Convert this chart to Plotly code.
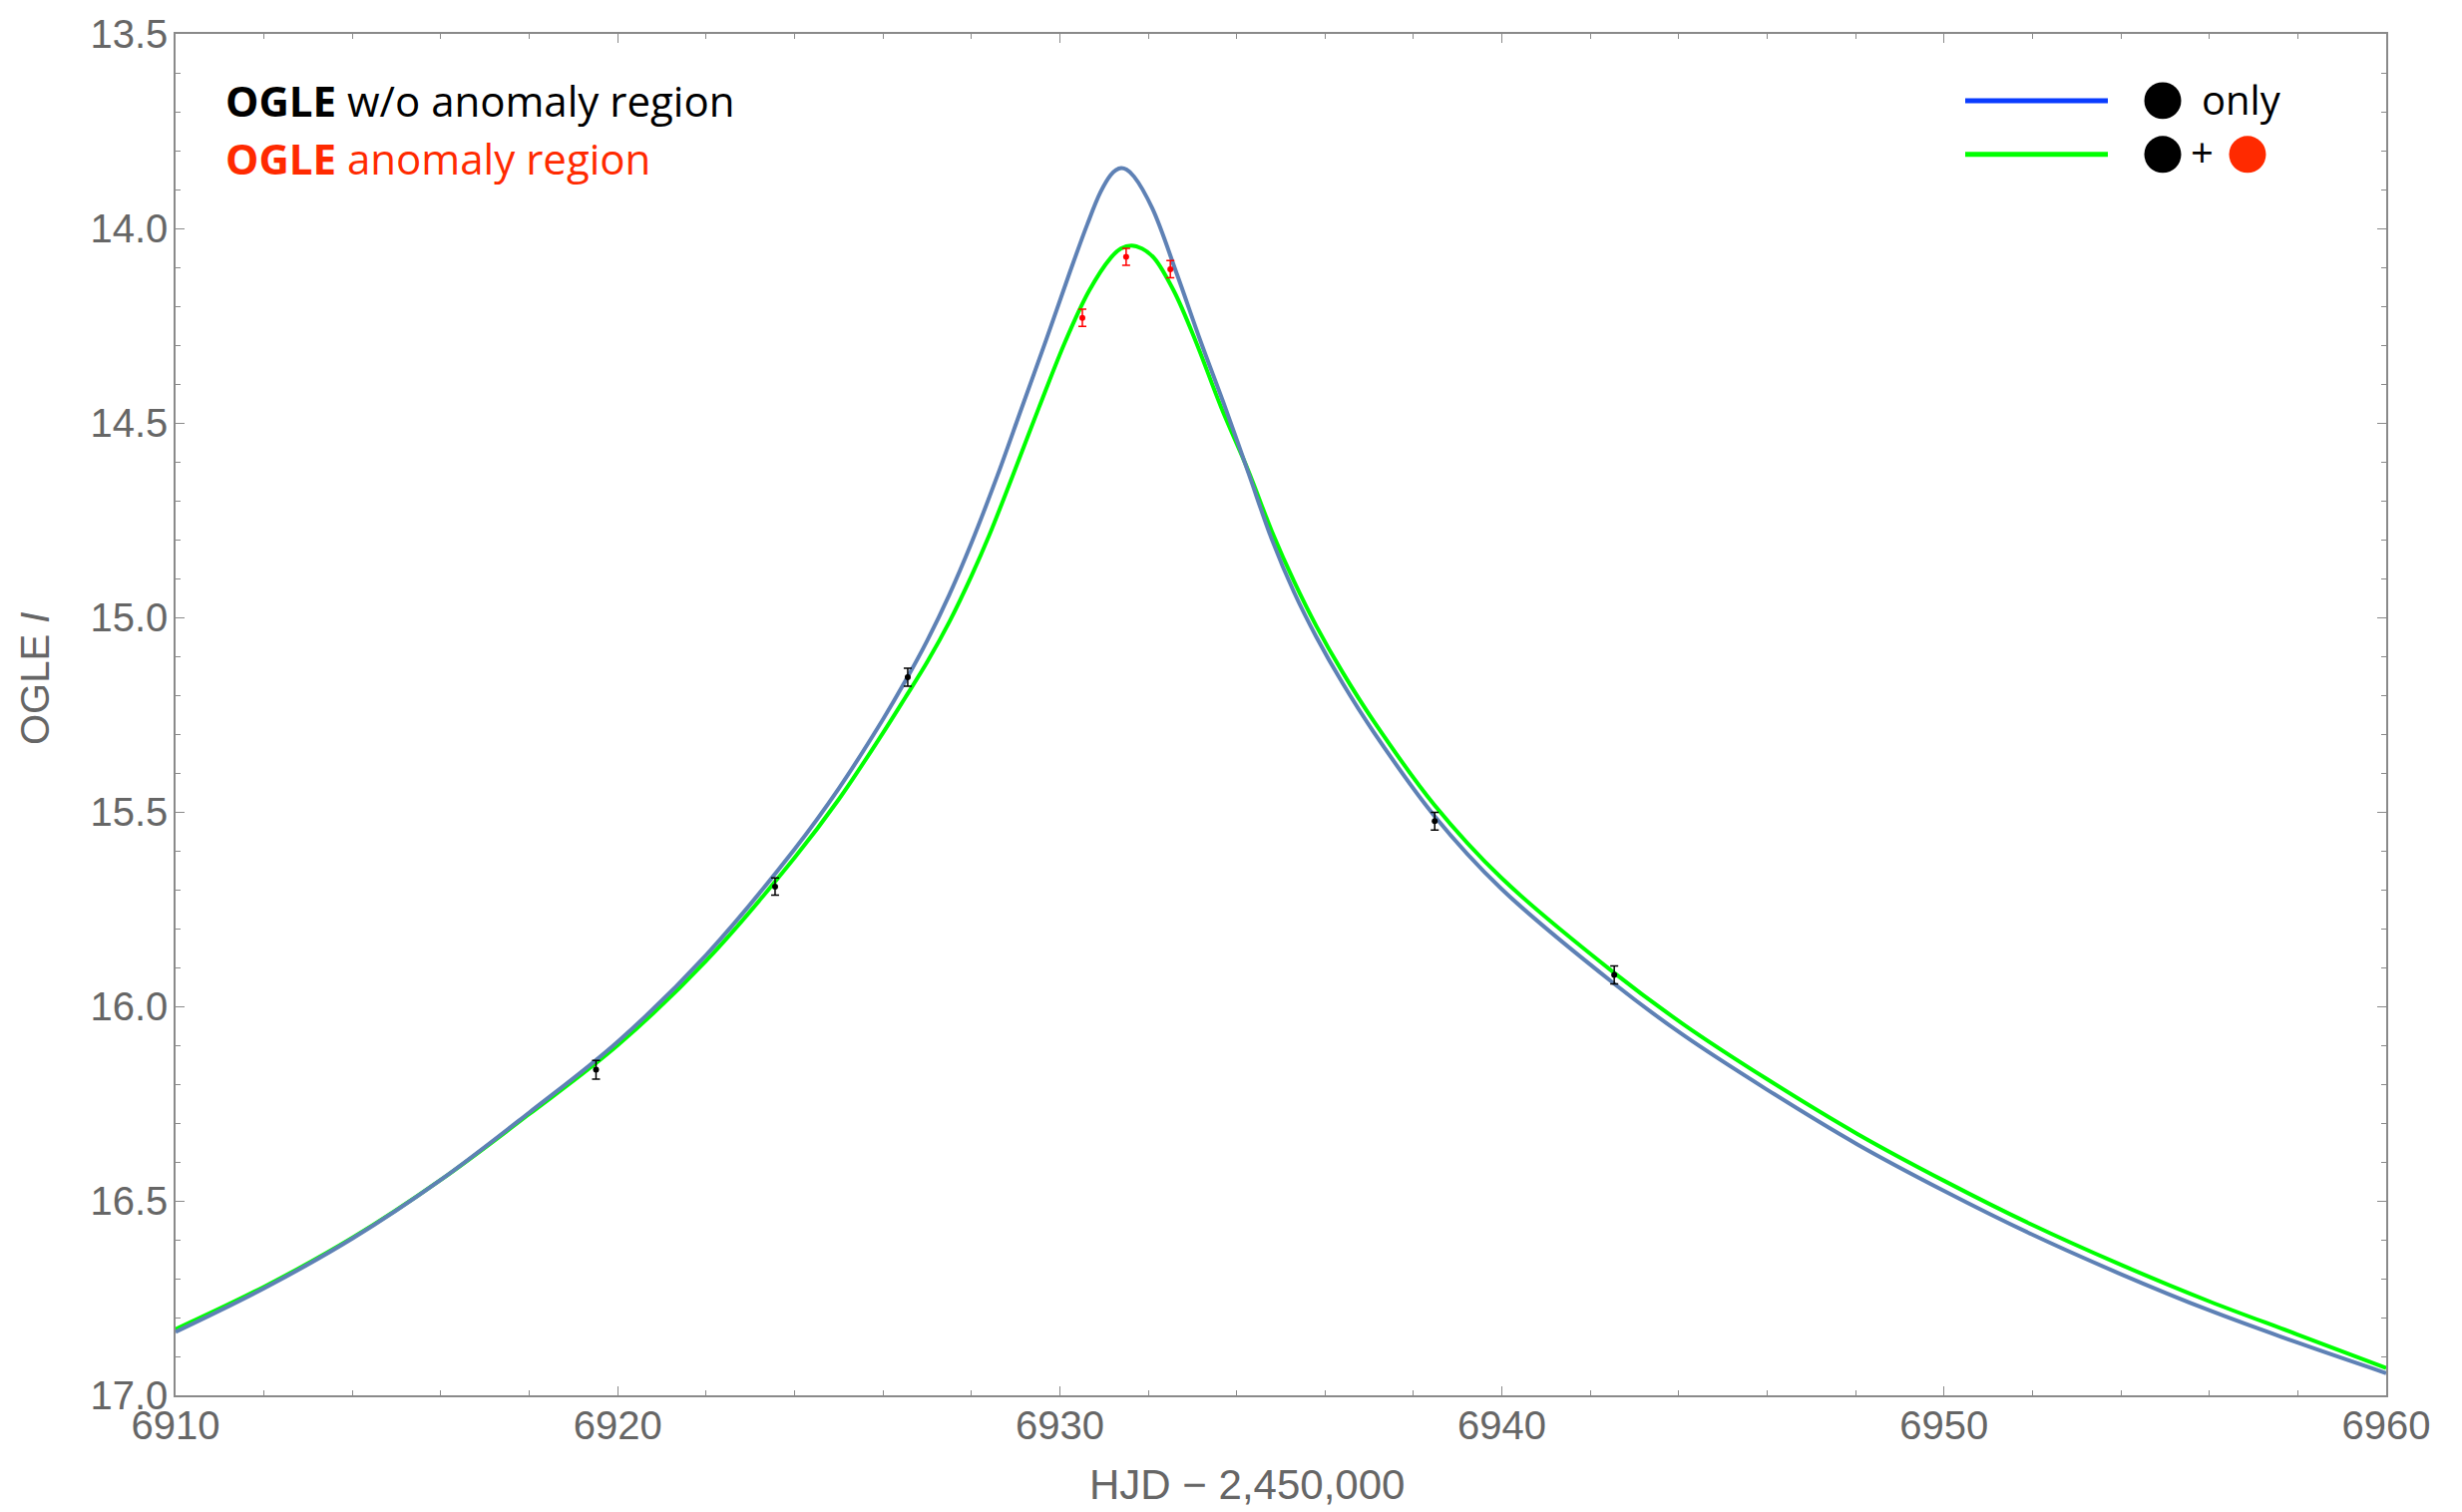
import plotly.graph_objects as go

# ---------------- data ----------------
ogle_t = [6919.51, 6923.56, 6926.56, 6938.48, 6942.54]
ogle_mag = [16.163, 15.692, 15.154, 15.524, 15.919]
ogle_err = [0.024, 0.022, 0.023, 0.023, 0.023]

anom_t = [6930.51, 6931.50, 6932.50]
anom_mag = [14.230, 14.073, 14.105]
anom_err = [0.022, 0.022, 0.022]

blue_t = [6910.00, 6912.00, 6914.00, 6916.00, 6918.00, 6920.00, 6922.00, 6924.00,
          6925.00, 6926.00, 6926.50, 6927.00, 6927.50, 6928.00, 6928.59, 6929.13,
          6929.68, 6930.21, 6930.62, 6930.92, 6931.15, 6931.27, 6931.39, 6931.51,
          6931.68, 6932.09, 6932.65, 6933.18, 6933.74, 6934.27, 6934.80, 6935.30,
          6935.80, 6936.40, 6937.10, 6938.47, 6939.99, 6942.53, 6944.09, 6945.98,
          6948.04, 6950.01, 6951.98, 6953.95, 6956.01, 6957.98, 6960.00]
blue_mag = [16.837, 16.725, 16.597, 16.446, 16.273, 16.091, 15.868, 15.596,
            15.440, 15.262, 15.165, 15.060, 14.942, 14.809, 14.635, 14.464,
            14.290, 14.118, 13.990, 13.907, 13.863, 13.850, 13.845, 13.849,
            13.867, 13.948, 14.118, 14.289, 14.460, 14.630, 14.801, 14.936,
            15.050, 15.170, 15.295, 15.510, 15.698, 15.941, 16.073, 16.213,
            16.355, 16.475, 16.586, 16.686, 16.782, 16.864, 16.943]

green_t = [6910.00, 6912.00, 6914.00, 6916.00, 6918.00, 6920.00, 6922.00, 6924.00,
           6925.00, 6926.00, 6926.50, 6927.00, 6927.50, 6928.00, 6928.40, 6928.93,
           6929.53, 6930.13, 6930.66, 6931.15, 6931.38, 6931.62, 6931.86, 6932.13,
           6932.58, 6933.07, 6933.65, 6934.27, 6934.80, 6935.30, 6935.80, 6936.40,
           6937.10, 6938.47, 6939.99, 6942.53, 6944.09, 6945.98, 6948.04, 6950.01,
           6951.98, 6953.95, 6956.01, 6957.98, 6960.00]
green_mag = [16.830, 16.721, 16.595, 16.446, 16.277, 16.100, 15.883, 15.618,
             15.468, 15.297, 15.207, 15.115, 15.012, 14.894, 14.790, 14.637,
             14.460, 14.289, 14.161, 14.076, 14.052, 14.044, 14.052, 14.076,
             14.161, 14.289, 14.460, 14.625, 14.780, 14.908, 15.022, 15.142,
             15.267, 15.482, 15.670, 15.913, 16.045, 16.186, 16.328, 16.449,
             16.561, 16.662, 16.759, 16.843, 16.930]

x_range = [6910, 6960]
y_range = [17.0, 13.5]

# ---------------- geometry helpers ----------------
W, H = 2468, 1516
L, R, T, B = 176, 2392, 32, 1399
PW, PH = R - L, B - T


def px(X):
    return (X - L) / PW


def py(Y):
    return (B - Y) / PH


fig = go.Figure()

fig.add_trace(go.Scatter(x=green_t, y=green_mag, mode="lines",
                         line=dict(color="#00ff00", width=4, shape="spline", smoothing=1.0),
                         showlegend=False, hoverinfo="skip"))
fig.add_trace(go.Scatter(x=blue_t, y=blue_mag, mode="lines",
                         line=dict(color="#5e81b5", width=4, shape="spline", smoothing=1.0),
                         showlegend=False, hoverinfo="skip"))
fig.add_trace(go.Scatter(x=ogle_t, y=ogle_mag, mode="markers",
                         marker=dict(color="black", size=6),
                         error_y=dict(type="data", array=ogle_err, color="black",
                                      thickness=1.5, width=4),
                         showlegend=False))
fig.add_trace(go.Scatter(x=anom_t, y=anom_mag, mode="markers",
                         marker=dict(color="#ff0000", size=6),
                         error_y=dict(type="data", array=anom_err, color="#ff0000",
                                      thickness=1.5, width=4),
                         showlegend=False))

axis_common = dict(
    showline=True, linecolor="#8a8a8a", linewidth=1.5, mirror="allticks",
    ticks="inside", ticklen=9, tickwidth=1.3, tickcolor="#8a8a8a",
    showgrid=False, zeroline=False,
    tickfont=dict(family="Liberation Sans", size=40, color="#666666"),
)

fig.update_xaxes(range=x_range, dtick=10, tick0=6910,
                 minor=dict(dtick=2, ticks="inside", ticklen=5, tickcolor="#8a8a8a", tickwidth=1.3),
                 ticklabelstandoff=-6, **axis_common)
fig.update_yaxes(range=y_range, dtick=0.5, tick0=13.5, tickformat=".1f",
                 minor=dict(dtick=0.1, ticks="inside", ticklen=5, tickcolor="#8a8a8a", tickwidth=1.3),
                 ticklabelstandoff=-2, **axis_common)

annotations = [
    dict(text="HJD \u2212 2,450,000", x=px(1250), y=py(1489), xref="paper", yref="paper",
         showarrow=False, xanchor="center", yanchor="middle",
         font=dict(family="Liberation Sans", size=42, color="#666666")),
    dict(text="OGLE <i>I</i>", x=px(35), y=py(680), xref="paper", yref="paper",
         showarrow=False, xanchor="center", yanchor="middle", textangle=-90,
         font=dict(family="Liberation Sans", size=40, color="#666666")),
    dict(text="<b>OGLE</b> w/o anomaly region", x=px(224), y=py(99), xref="paper", yref="paper",
         showarrow=False, xanchor="left", yanchor="middle",
         font=dict(family="Open Sans", size=42, color="black")),
    dict(text="<b>OGLE</b> anomaly region", x=px(224), y=py(157), xref="paper", yref="paper",
         showarrow=False, xanchor="left", yanchor="middle",
         font=dict(family="Open Sans", size=42, color="#ff2a00")),
    dict(text="only", x=px(2205), y=py(98), xref="paper", yref="paper",
         showarrow=False, xanchor="left", yanchor="middle",
         font=dict(family="Open Sans", size=40, color="black")),
    dict(text="+", x=px(2207), y=py(151), xref="paper", yref="paper",
         showarrow=False, xanchor="center", yanchor="middle",
         font=dict(family="Open Sans", size=40, color="black")),
]

shapes = [
    dict(type="line", xref="paper", yref="paper", x0=px(1970), x1=px(2113), y0=py(99), y1=py(99),
         line=dict(color="#0a3cff", width=5)),
    dict(type="line", xref="paper", yref="paper", x0=px(1970), x1=px(2113), y0=py(153), y1=py(153),
         line=dict(color="#00ff00", width=5)),
]
r = 18.5
for cx, cy, col in [(2168, 99, "black"), (2168, 153, "black"), (2253, 153, "#ff2a00")]:
    shapes.append(dict(type="circle", xref="paper", yref="paper",
                       x0=px(cx - r), x1=px(cx + r), y0=py(cy + r), y1=py(cy - r),
                       fillcolor=col, line=dict(width=0)))

fig.update_layout(
    width=W, height=H,
    margin=dict(l=L, r=W - R, t=T, b=H - B),
    paper_bgcolor="white", plot_bgcolor="white",
    annotations=annotations, shapes=shapes,
    showlegend=False,
)

fig.write_html("out.html")
